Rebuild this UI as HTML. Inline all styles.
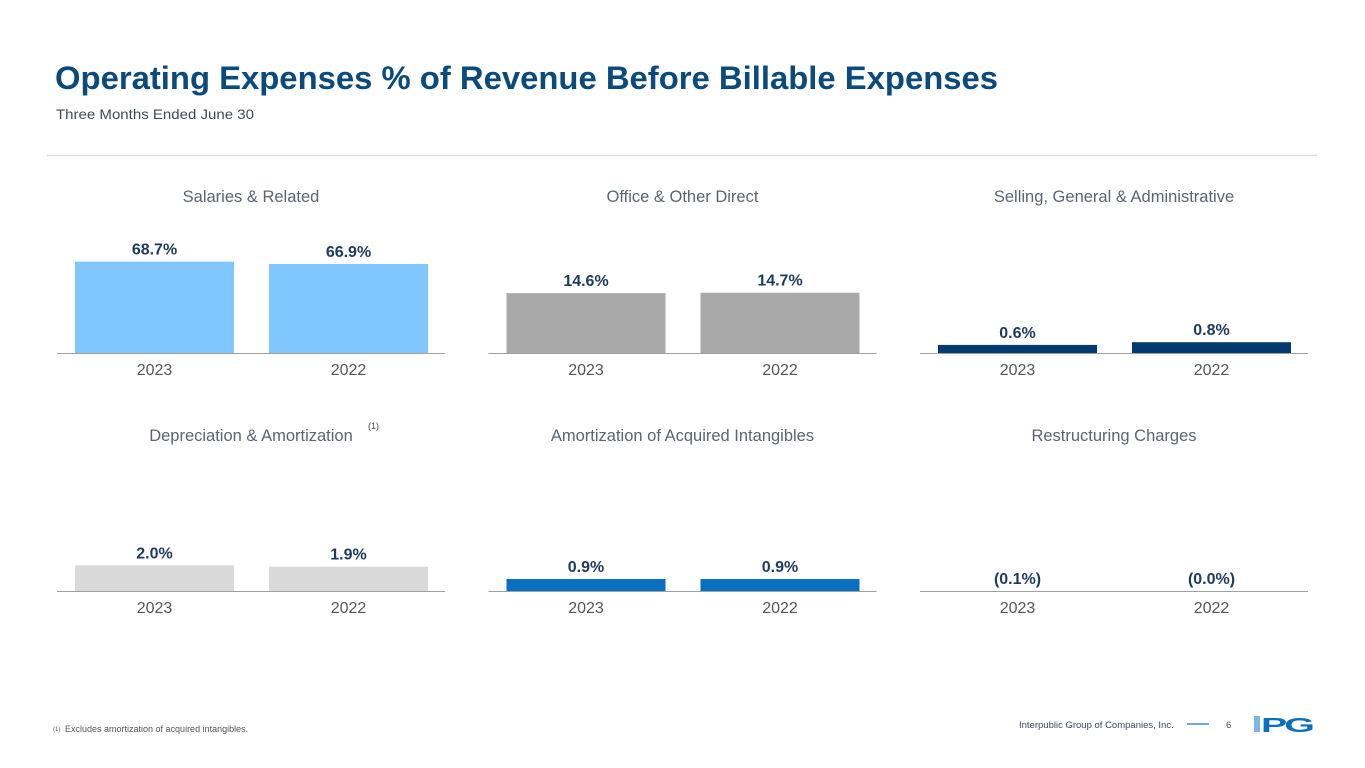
<!DOCTYPE html>
<html><head><meta charset="utf-8"><style>
body{margin:0;background:#fff;font-family:"Liberation Sans",sans-serif}
svg{display:block}
</style></head><body>
<svg id="s" width="1365" height="768" viewBox="0 0 1365 768" xmlns="http://www.w3.org/2000/svg">
<text x="55" y="89" font-size="32" font-weight="bold" fill="#0b4a7c" textLength="943" lengthAdjust="spacingAndGlyphs">Operating Expenses % of Revenue Before Billable Expenses</text>
<text x="56" y="119" font-size="14" fill="#3c4a5c" textLength="198" lengthAdjust="spacingAndGlyphs">Three Months Ended June 30</text>
<line x1="47" y1="155.5" x2="1317" y2="155.5" stroke="#dcdcdc" stroke-width="1.5"/>
<g id="charts"></g>
<text x="53" y="731" font-size="6" fill="#555">(1)</text>
<text x="65" y="732" font-size="9" fill="#555">Excludes amortization of acquired intangibles.</text>
<text x="1019" y="728" font-size="9.5" fill="#3c4a5c">Interpublic Group of Companies, Inc.</text>
<line x1="1187" y1="724" x2="1209" y2="724" stroke="#4a86c5" stroke-width="1.5"/>
<text x="1226" y="728" font-size="9.5" fill="#3c4a5c">6</text>
<g>
<rect x="1254" y="716" width="6" height="16" fill="#7fb5e2"/>
<text x="1261" y="732" font-size="20" font-weight="bold" fill="#0a6fc0" letter-spacing="-1.5" textLength="51" lengthAdjust="spacingAndGlyphs">PG</text>
</g>
</svg>
<script>
const titles=["Salaries & Related","Office & Other Direct","Selling, General & Administrative","Depreciation & Amortization","Amortization of Acquired Intangibles","Restructuring Charges"];
const years=["2023","2022"];
const values2023=[68.7,14.6,0.6,2.0,0.9,-0.1];
const values2022=[66.9,14.7,0.8,1.9,0.9,0.0];
const labels2023=["68.7%","14.6%","0.6%","2.0%","0.9%","(0.1%)"];
const labels2022=["66.9%","14.7%","0.8%","1.9%","0.9%","(0.0%)"];
const colors=["#80c6ff","#a9a9a9","#003a70","#d9d9d9","#0a6fc0","#0a6fc0"];
const pxPerUnit=[1.33,4.1,13.5,12.8,13.3,13];
const NS="http://www.w3.org/2000/svg";
const g=document.getElementById('charts');
function mk(t,a,p){const e=document.createElementNS(NS,t);for(const k in a)e.setAttribute(k,a[k]);(p||g).appendChild(e);return e;}
for(let i=0;i<6;i++){
  const col=i%3,row=Math.floor(i/3);
  const x0=57+col*431.5, base=row?591:353, ty=row?441:202;
  const cg=mk('g',{});
  
  
  const t=mk('text',{x:x0+194,y:ty,'font-size':16.5,fill:'#5a6473','text-anchor':'middle'},cg);t.textContent=titles[i];
  
  
  if(i===3){const s=mk('text',{x:x0+311,y:ty-12,'font-size':9,fill:'#444'},cg);s.textContent='(1)';
    
    }
  const vals=[values2023[i],values2022[i]],labs=[labels2023[i],labels2022[i]];
  for(let j=0;j<2;j++){
    const bx=x0+18+j*194,bw=159;
    const h=Math.max(0,vals[j])*pxPerUnit[i];
    const r=mk('rect',{x:bx,y:base-h,width:bw,height:h,fill:colors[i]},cg);
    
    
    const vl=mk('text',{x:bx+bw/2,y:base-h-7,'font-size':16,'font-weight':'bold',fill:'#1f3a5f','text-anchor':'middle'},cg);vl.textContent=labs[j];
    
    
    const yl=mk('text',{x:bx+bw/2,y:base+22,'font-size':16,fill:'#555','text-anchor':'middle'},cg);yl.textContent=years[j];
    
    
  }
  const ax=mk('line',{x1:x0,y1:base+0.5,x2:x0+388,y2:base+0.5,stroke:'#a0a0a0','stroke-width':1},cg);
  
  
}
</script>
</body></html>
